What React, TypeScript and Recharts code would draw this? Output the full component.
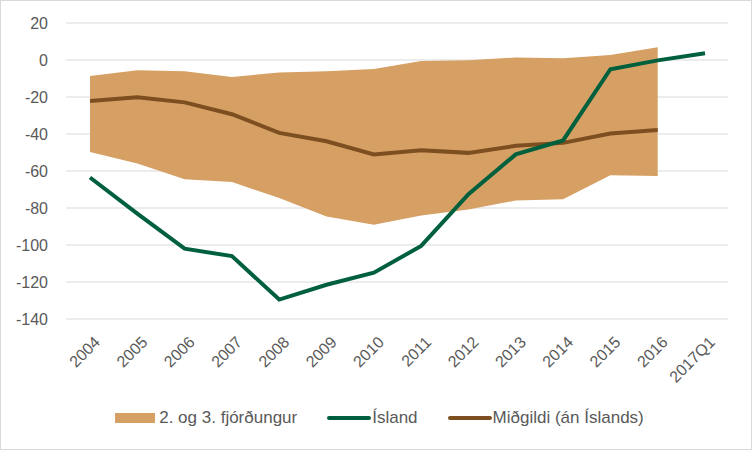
import React from 'react';
import { ComposedChart, Area, Line, XAxis, YAxis, CartesianGrid, Legend } from 'recharts';

const categories = ['2004', '2005', '2006', '2007', '2008', '2009', '2010', '2011', '2012', '2013', '2014', '2015', '2016', '2017Q1'];
const island = [-63.5, -83, -102, -106, -129.5, -121.5, -115, -100.5, -72.5, -51, -43.5, -5, -0.2, 3.6];
const median: (number | null)[] = [-22.2, -20.2, -22.9, -29.3, -39.4, -43.9, -51.1, -48.8, -50.2, -46.4, -44.8, -39.7, -37.9, null];
const upperQ: (number | null)[] = [-8.7, -5.6, -6.1, -9.2, -6.7, -6.1, -4.9, -0.5, -0.2, 1.4, 0.9, 2.7, 6.9, null];
const lowerQ: (number | null)[] = [-49.7, -56, -64.5, -66, -74.6, -84.6, -89, -84, -80.8, -75.9, -75.3, -62.3, -62.7, null];
const yTicks = [-140, -120, -100, -80, -60, -40, -20, 0, 20];

const data = categories.map((c, i) => ({
  cat: c,
  island: island[i],
  median: median[i],
  band: lowerQ[i] !== null && upperQ[i] !== null ? [lowerQ[i], upperQ[i]] : null,
}));

const FONT = '"Liberation Sans", Arial, sans-serif';
const TXT = '#595959';
const BAND = '#D6A064';
const GREEN = '#00603E';
const BROWN = '#7C4E20';

const XTick = (props: any) => {
  const { x, y, payload } = props;
  return (
    <g transform={`translate(${x + 3},${y + 8})`}>
      <text x={0} y={0} dy="0.72em" textAnchor="end" transform="rotate(-45)" fill={TXT} fontSize={16} fontFamily={FONT}>
        {payload.value}
      </text>
    </g>
  );
};

const LegendContent = () => (
  <div style={{ display: 'flex', justifyContent: 'center', alignItems: 'center', height: 24, fontFamily: FONT, fontSize: 17, color: TXT, paddingLeft: 30 }}>
    <div style={{ display: 'flex', alignItems: 'center', marginRight: 30 }}>
      <span style={{ display: 'inline-block', width: 40, height: 10, background: BAND, marginRight: 4 }} />
      <span>2. og 3. fjórðungur</span>
    </div>
    <div style={{ display: 'flex', alignItems: 'center', marginRight: 30 }}>
      <span style={{ display: 'inline-block', width: 44, height: 4, background: GREEN, borderRadius: 2, marginRight: 1 }} />
      <span>Ísland</span>
    </div>
    <div style={{ display: 'flex', alignItems: 'center' }}>
      <span style={{ display: 'inline-block', width: 44, height: 4, background: BROWN, borderRadius: 2, marginRight: 1 }} />
      <span>Miðgildi (án Íslands)</span>
    </div>
  </div>
);

export default function App() {
  return (
    <div style={{ position: 'absolute', left: 0, top: 0, width: 750, height: 448, border: '1px solid #d9d9d9', background: '#fff' }}>
      <ComposedChart width={750} height={448} data={data} margin={{ top: 22, right: 23, left: 0, bottom: 19 }}>
        <CartesianGrid vertical={false} stroke="#d9d9d9" strokeWidth={1} />
        <XAxis dataKey="cat" axisLine={false} tickLine={false} interval={0} height={87} tick={<XTick />} padding={{ left: 24, right: 23 }} />
        <YAxis
          domain={[-140, 20]}
          ticks={yTicks}
          axisLine={false}
          tickLine={false}
          width={65}
          tickMargin={12}
          tick={{ fill: TXT, fontSize: 16, fontFamily: FONT }}
          interval={0}
        />
        <Legend verticalAlign="bottom" content={<LegendContent />} />
        <Area dataKey="band" type="linear" stroke="none" fill={BAND} fillOpacity={1} isAnimationActive={false} legendType="none" />
        <Line dataKey="median" type="linear" stroke={BROWN} strokeWidth={4} dot={false} isAnimationActive={false} />
        <Line dataKey="island" type="linear" stroke={GREEN} strokeWidth={4} dot={false} isAnimationActive={false} />
      </ComposedChart>
    </div>
  );
}
